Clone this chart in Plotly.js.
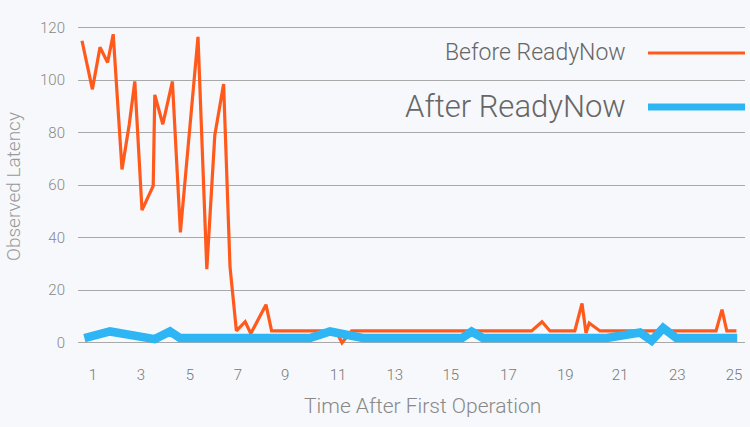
<!DOCTYPE html>
<html>
<head>
<meta charset="utf-8">
<script src="https://cdn.plot.ly/plotly-3.0.1.min.js"></script>
<style>
html,body{margin:0;padding:0;background:#f6f8fb;}
#chart{width:750px;height:427px;}
</style>
</head>
<body>
<div id="chart"></div>
<script>
// Sample positions (sample index along the time axis) and observed latency values
var beforeSample = [0, 1.3, 2.25, 3.2, 3.9, 5.0, 5.9, 6.6, 7.5, 8.9, 9.1, 10.1, 11.3, 12.3, 14.5, 15.6, 16.6, 17.7, 18.5, 19.3, 20.4, 21.1, 23.0, 23.7, 31.75, 32.5, 33.7, 56.2, 57.5, 58.5, 61.6, 62.5, 63.0, 63.4, 64.75, 79.25, 80.0, 80.6, 81.8];
var beforeLatency = [115, 96.5, 112.5, 106.7, 117.5, 66, 83, 99.5, 50.5, 59.7, 94.4, 83.2, 99.5, 42, 116.5, 28, 79, 98.5, 29, 4.5, 8, 3.5, 14.5, 4.5, 4.5, 0, 4.5, 4.5, 8, 4.5, 4.5, 15, 3.7, 7.5, 4.5, 4.5, 12.6, 4.5, 4.5];

var afterSample = [0.3, 3.5, 9.1, 11.0, 12.25, 28.5, 31.0, 35.1, 47.5, 48.7, 50.1, 65.6, 69.75, 71.2, 72.65, 74.3, 81.9];
var afterLatency = [1.8, 4.3, 1.4, 4.3, 1.8, 1.8, 4.3, 1.8, 1.8, 4.3, 1.8, 1.8, 3.9, 0.8, 5.6, 1.8, 1.8];

// Tick labels (time after first operation) and the sample positions where they sit
var tickLabels = ['1', '3', '5', '7', '9', '11', '13', '15', '17', '19', '21', '23', '25'];
var tickSamples = [1.375, 7.375, 13.5, 19.5, 25.4, 32.0, 39.1, 46.1, 53.3, 60.4, 67.25, 74.4, 81.5];

var seriesNames = ['Before ReadyNow', 'After ReadyNow'];
var ORANGE = '#ff5a1c', BLUE = '#2db5f4';
var FONT = 'Roboto, "Liberation Sans", sans-serif';

var traces = [
  {x: beforeSample, y: beforeLatency, type: 'scatter', mode: 'lines', name: seriesNames[0],
   line: {color: ORANGE, width: 3.2}},
  {x: afterSample, y: afterLatency, type: 'scatter', mode: 'lines', name: seriesNames[1],
   line: {color: BLUE, width: 8.5}}
];

var layout = {
  width: 750, height: 427,
  margin: {l: 78, r: 5, t: 25, b: 79},
  paper_bgcolor: '#f6f8fb', plot_bgcolor: '#f6f8fb',
  showlegend: false,
  font: {family: FONT, color: '#888'},
  xaxis: {
    range: [-0.5, 82.875],
    showgrid: false, zeroline: false, showline: false,
    tickmode: 'array', tickvals: tickSamples, ticktext: tickLabels,
    ticks: '', ticklabelstandoff: 16,
    tickfont: {family: FONT, size: 15, color: '#777', weight: 300}
  },
  yaxis: {
    range: [-2, 121],
    tickvals: [0, 20, 40, 60, 80, 100, 120],
    showgrid: true, gridcolor: '#a9a9a9', gridwidth: 1.3,
    zeroline: false, showline: false,
    ticks: '', ticklabelstandoff: 12,
    tickfont: {family: FONT, size: 15, color: '#888', weight: 300},
    title: {text: 'Observed Latency', standoff: 14,
            font: {family: FONT, size: 19, color: '#999', weight: 300}}
  },
  shapes: [
    {type: 'line', xref: 'paper', yref: 'paper', x0: 0.8546, x1: 1.0, y0: 0.9136, y1: 0.9136,
     line: {color: ORANGE, width: 3}},
    {type: 'line', xref: 'paper', yref: 'paper', x0: 0.8546, x1: 1.0, y0: 0.7463, y1: 0.7463,
     line: {color: BLUE, width: 7}}
  ],
  annotations: [
    {xref: 'paper', yref: 'paper', x: 0.8246, y: 0.9136, xanchor: 'right', yanchor: 'middle',
     text: seriesNames[0], showarrow: false,
     font: {family: FONT, size: 23, color: '#666', weight: 300}},
    {xref: 'paper', yref: 'paper', x: 0.8246, y: 0.7463, xanchor: 'right', yanchor: 'middle',
     text: seriesNames[1], showarrow: false,
     font: {family: FONT, size: 31, color: '#666', weight: 300}},
    {xref: 'paper', yref: 'paper', x: (422 - 78) / 667, y: -(406 - 348.25) / 322.85,
     xanchor: 'center', yanchor: 'middle',
     text: 'Time After First Operation', showarrow: false,
     font: {family: FONT, size: 21, color: '#888', weight: 300}}
  ]
};

Plotly.newPlot('chart', traces, layout, {displayModeBar: false, staticPlot: true});
</script>
</body>
</html>
